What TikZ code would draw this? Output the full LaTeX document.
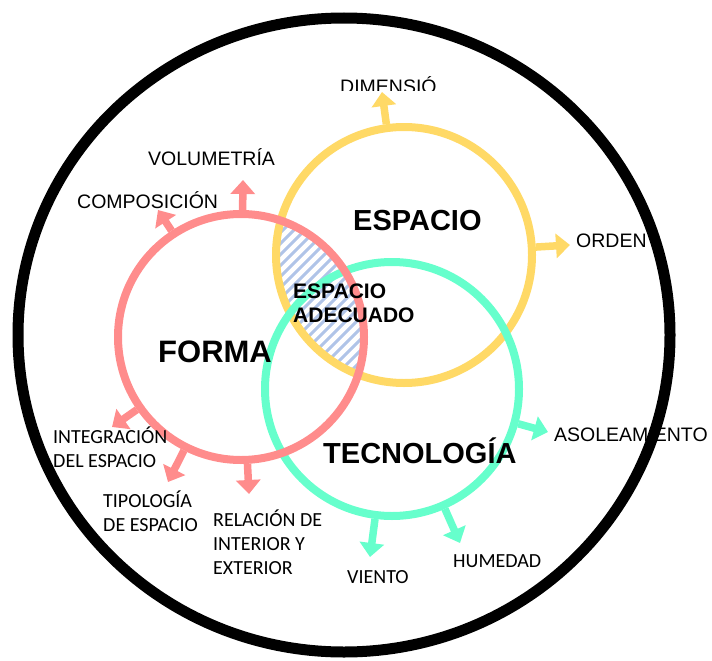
\documentclass[tikz,border=0pt]{standalone}
\usepackage{fontspec}
\setmainfont{Liberation Sans}
\newfontfamily\calibrifont{Carlito}
\usetikzlibrary{arrows.meta}

\definecolor{formapink}{HTML}{FF8C8C}
\definecolor{espacioyellow}{HTML}{FFD966}
\definecolor{tecnogreen}{HTML}{66FFCC}
\definecolor{hatchblue}{HTML}{B0C4E8}

\tikzset{
    ring/.style={circle, line width=8pt, inner sep=0pt},
    branch/.style={-{Triangle[width=24pt,length=14pt]}, line width=7.5pt, draw=#1},
    bigtitle/.style={font=\bfseries\fontsize{29}{34}\selectfont, inner sep=0pt, anchor=base west},
    smalltext/.style={font=\fontsize{19.5}{24}\selectfont, inner sep=0pt, anchor=base west, align=left},
    caltext/.style={font=\calibrifont\fontsize{20}{24}\selectfont, inner sep=0pt, anchor=base west, align=left}
}

\begin{document}
\begin{tikzpicture}[x=1pt, y=-1pt]
    % Fix the size of the page
    \useasboundingbox (0,0) rectangle (712,661);

    % Draw the hatched part shared by forma and espacio
    \begin{scope}
        \clip (404,255) circle[radius=128];
        \clip (241,337) circle[radius=123];
        \foreach \s in {480,491,...,770}
            \draw[hatchblue, line width=3pt] (\s-400,400) -- (\s-200,200);
    \end{scope}

    % Draw the three circles
    \node[ring, draw=espacioyellow, minimum size=256pt] (espacio) at (404,255) {};
    \node[ring, draw=tecnogreen, minimum size=254pt] (tecno) at (392,389) {};
    \node[ring, draw=formapink, minimum size=246pt] (forma) at (241,337) {};

    % Tips of the arrows
    \coordinate (volTip) at (243,180);
    \coordinate (compTip) at (158,210);
    \coordinate (integTip) at (112,427);
    \coordinate (tipoTip) at (168,482);
    \coordinate (relTip) at (249,494);
    \coordinate (dimTip) at (382,92);
    \coordinate (ordenTip) at (570,245);
    \coordinate (asolTip) at (548,432);
    \coordinate (humTip) at (460,543);
    \coordinate (vientoTip) at (370,557);

    % Draw the arrows going out of each circle
    \foreach \t in {volTip, compTip, integTip, tipoTip, relTip}
        \draw[branch=formapink] (forma) -- (\t);
    \foreach \t in {dimTip, ordenTip}
        \draw[branch=espacioyellow] (espacio) -- (\t);
    \foreach \t in {asolTip, humTip, vientoTip}
        \draw[branch=tecnogreen] (tecno) -- (\t);

    % Titles of the circles
    \node[bigtitle, font=\bfseries\fontsize{31}{36}\selectfont] (formaText) at (158,362) {FORMA};
    \node[bigtitle] (espacioText) at (353,230) {ESPACIO};
    \node[bigtitle] (tecnoText) at (323,463) {TECNOLOGÍA};
    \node[bigtitle, font=\bfseries\fontsize{21}{24}\selectfont, align=left] (adecuadoText) at (293,322) {ESPACIO\\ADECUADO};

    % Labels next to the arrows (base is the last line)
    \begin{scope}
        \clip (330,60) rectangle (470,90);
        \node[smalltext] (dimText) at (340,93) {DIMENSIÓ};
    \end{scope}
    \node[smalltext] (volText) at (148,165) {VOLUMETRÍA};
    \node[smalltext] (compText) at (77,208) {COMPOSICIÓN};
    \node[smalltext] (ordenText) at (576,247) {ORDEN};
    \node[smalltext] (asolText) at (554,441) {ASOLEAMIENTO};
    \node[caltext] (integText) at (53,467) {INTEGRACIÓN\\DEL ESPACIO};
    \node[caltext] (tipoText) at (103,531) {TIPOLOGÍA\\DE ESPACIO};
    \node[caltext] (relText) at (213,574) {RELACIÓN DE\\INTERIOR Y\\EXTERIOR};
    \node[caltext] (humText) at (453,567) {HUMEDAD};
    \node[caltext] (vientoText) at (347,583) {VIENTO};

    % Draw the big outer ring
    \draw[line width=11pt] (344,335) ellipse[x radius=326, y radius=317];
\end{tikzpicture}
\end{document}
